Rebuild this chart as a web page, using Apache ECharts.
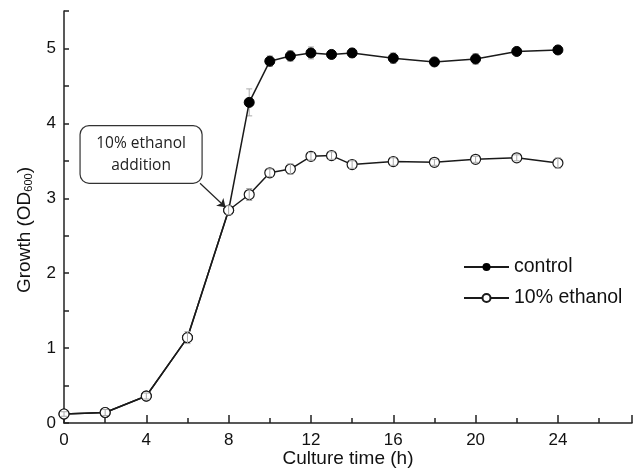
<!DOCTYPE html>
<html>
<head>
<meta charset="utf-8">
<script src="https://cdn.jsdelivr.net/npm/echarts@6/dist/echarts.min.js"></script>
<style>
    html, body { margin: 0; padding: 0; background: #fff; }
    #main { width: 640px; height: 471px; }
</style>
</head>
<body>
<div id="main"></div>
<script>
    // culture time (h)
    var hours = [0, 2, 4, 6, 8, 9, 10, 11, 12, 13, 14, 16, 18, 20, 22, 24];
    // OD600 control
    var control = [0.12, 0.14, 0.36, 1.14, 2.84, 4.28, 4.83, 4.90, 4.94, 4.92, 4.94, 4.87, 4.82, 4.86, 4.96, 4.98];
    var controlErr = [0.03, 0.03, 0.04, 0.07, 0.05, 0.18, 0.07, 0.07, 0.08, 0.04, 0.06, 0.07, 0.04, 0.07, 0.04, 0.03];
    // OD600 10% ethanol
    var ethanol = [0.12, 0.14, 0.36, 1.14, 2.84, 3.05, 3.34, 3.39, 3.56, 3.57, 3.45, 3.49, 3.48, 3.52, 3.54, 3.47];
    var ethanolErr = [0.03, 0.04, 0.04, 0.08, 0.06, 0.08, 0.05, 0.07, 0.05, 0.05, 0.05, 0.05, 0.04, 0.04, 0.04, 0.07];
    var xTicks = [0, 4, 8, 12, 16, 20, 24];
    var yTicks = [0, 1, 2, 3, 4, 5];

    function pairs(ys) {
        return hours.map(function (h, i) { return [h, ys[i]]; });
    }
    function errRows(ys, es) {
        return hours.map(function (h, i) { return [h, ys[i] - es[i], ys[i] + es[i]]; });
    }

    function renderErr(params, api) {
        var lo = api.coord([api.value(0), api.value(1)]);
        var hi = api.coord([api.value(0), api.value(2)]);
        var w = 3;
        var st = { stroke: '#aaa', lineWidth: 1 };
        return {
            type: 'group',
            children: [
                { type: 'line', shape: { x1: lo[0], y1: lo[1], x2: hi[0], y2: hi[1] }, style: st },
                { type: 'line', shape: { x1: lo[0] - w, y1: lo[1], x2: lo[0] + w, y2: lo[1] }, style: st },
                { type: 'line', shape: { x1: hi[0] - w, y1: hi[1], x2: hi[0] + w, y2: hi[1] }, style: st }
            ]
        };
    }

    var font = 'Liberation Sans, Arial, sans-serif';
    var myChart = echarts.init(document.getElementById('main'), null, { renderer: 'canvas' });
    option = {
        animation: false,
        backgroundColor: '#fff',
        grid: { left: 64, right: 8, top: 11, bottom: 48, outerBoundsMode: 'none', containLabel: false },
        legend: {
            orient: 'vertical',
            left: 458,
            top: 252,
            itemWidth: 45,
            itemHeight: 10,
            itemGap: 11,
            textStyle: { fontFamily: font, fontSize: 19.5, color: '#111' },
            data: ['control', '10% ethanol']
        },
        xAxis: {
            type: 'value',
            min: 0,
            max: 27.6,
            interval: 4,
            name: 'Culture time (h)',
            nameLocation: 'middle',
            nameGap: 26,
            nameMoveOverlap: false,
            nameTextStyle: { fontFamily: font, fontSize: 19, color: '#111' },
            axisLine: { lineStyle: { color: '#222', width: 1.5 } },
            axisTick: { inside: true, length: 8, lineStyle: { color: '#222', width: 1.5 } },
            minorTick: { show: true, splitNumber: 2, length: 5, lineStyle: { color: '#222', width: 1.5 } },
            axisLabel: {
                fontFamily: font, fontSize: 17, color: '#111', margin: 9,
                formatter: function (v) { return xTicks.indexOf(v) >= 0 ? String(v) : ''; }
            },
            splitLine: { show: false }
        },
        yAxis: {
            type: 'value',
            min: 0,
            max: 5.5,
            interval: 1,
            name: 'Growth (OD{sub|600})',
            nameLocation: 'middle',
            nameGap: 30,
            nameMoveOverlap: false,
            nameTextStyle: {
                fontFamily: font, fontSize: 19, color: '#111',
                padding: [0, 26, 0, 0],
                rich: { sub: { fontFamily: font, fontSize: 11, verticalAlign: 'bottom', padding: [8, 0, 0, 0] } }
            },
            axisLine: { show: true, lineStyle: { color: '#222', width: 1.5 } },
            axisTick: { inside: true, length: 5, lineStyle: { color: '#222', width: 1.5 } },
            minorTick: { show: true, splitNumber: 2, length: 5, lineStyle: { color: '#222', width: 1.5 } },
            axisLabel: {
                fontFamily: font, fontSize: 17, color: '#111', margin: 8,
                formatter: function (v) { return yTicks.indexOf(v) >= 0 ? String(v) : ''; }
            },
            splitLine: { show: false }
        },
        series: [
            {
                name: 'control',
                type: 'line',
                data: pairs(control),
                symbol: 'circle',
                symbolSize: 10,
                itemStyle: { color: '#000', borderColor: '#000' },
                lineStyle: { color: '#1a1a1a', width: 1.5 },
                z: 3
            },
            {
                name: '10% ethanol',
                type: 'line',
                data: pairs(ethanol),
                symbol: 'circle',
                symbolSize: 10,
                showAllSymbol: true,
                itemStyle: { color: '#fff', borderColor: '#1a1a1a', borderWidth: 1.2 },
                lineStyle: { color: '#1a1a1a', width: 1.5 },
                z: 4,
                markLine: {
                    silent: true,
                    symbol: ['none', 'arrow'],
                    symbolSize: 8,
                    label: { show: false },
                    lineStyle: { color: '#222', width: 1.2, type: 'solid' },
                    data: [[{ coord: [6.61, 3.2] }, { coord: [7.85, 2.88] }]]
                }
            },
            {
                name: 'errControl',
                type: 'custom',
                renderItem: renderErr,
                data: errRows(control, controlErr).slice(4),
                encode: { x: 0, y: [1, 2] },
                z: 2
            },
            {
                name: 'errEthanol',
                type: 'custom',
                renderItem: renderErr,
                data: errRows(ethanol, ethanolErr),
                encode: { x: 0, y: [1, 2] },
                z: 5
            }
        ]
    };
    myChart.setOption(option);

    // annotation box, placed in data space
    var tl = myChart.convertToPixel({ gridIndex: 0 }, [0.78, 3.97]);
    var br = myChart.convertToPixel({ gridIndex: 0 }, [6.71, 3.2]);
    myChart.setOption({
        graphic: [
            {
                type: 'rect',
                shape: { x: tl[0], y: tl[1], width: br[0] - tl[0], height: br[1] - tl[1], r: 9 },
                style: { fill: '#fff', stroke: '#333', lineWidth: 1.2 },
                z: 10
            },
            {
                type: 'text',
                x: (tl[0] + br[0]) / 2,
                y: (tl[1] + br[1]) / 2,
                style: {
                    text: '10% ethanol\naddition',
                    fontFamily: 'Open Sans, Noto Sans, sans-serif',
                    fontSize: 15.5,
                    lineHeight: 22,
                    fill: '#222',
                    align: 'center',
                    verticalAlign: 'middle'
                },
                z: 11
            }
        ]
    });
</script>
</body>
</html>
